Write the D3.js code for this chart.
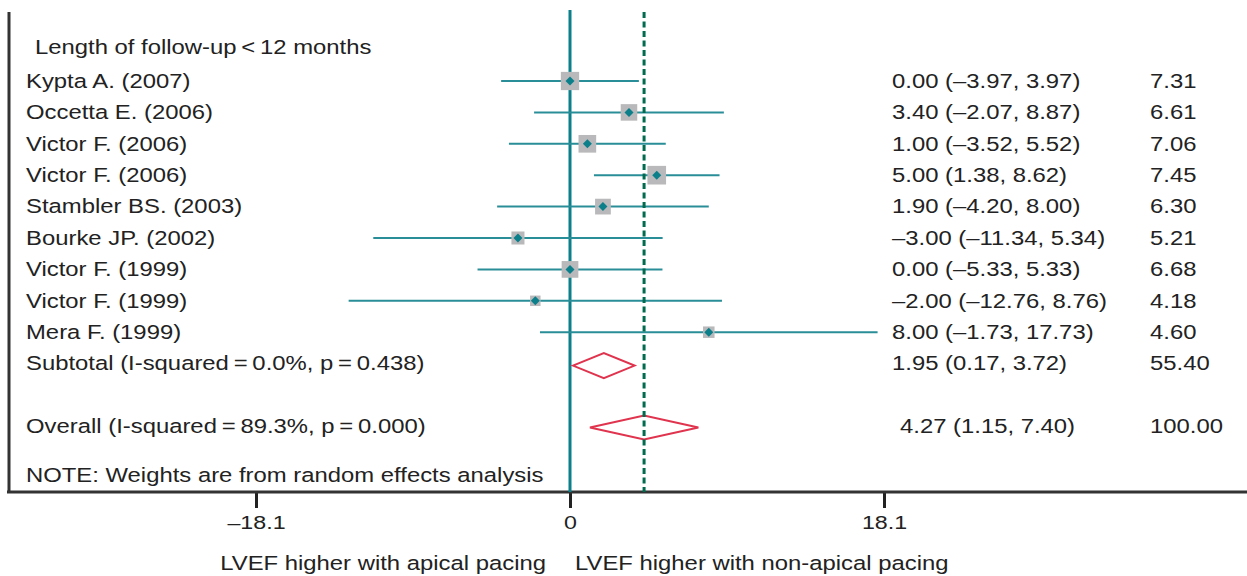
<!DOCTYPE html>
<html>
<head>
<meta charset="utf-8">
<script src="https://cdn.jsdelivr.net/npm/d3@7"></script>
<style>
  body { margin: 0; background: #fff; }
  svg text { font-family: "Liberation Sans", Arial, sans-serif; fill: #222; }
</style>
</head>
<body>
<div id="chart"></div>
<script>
// forest plot - LVEF, follow-up < 12 months

let width = 1247;
let height = 576;

let studies = ["Kypta A. (2007)", "Occetta E. (2006)", "Victor F. (2006)", "Victor F. (2006)",
    "Stambler BS. (2003)", "Bourke JP. (2002)", "Victor F. (1999)", "Victor F. (1999)", "Mera F. (1999)"];
let estimates = [0.00, 3.40, 1.00, 5.00, 1.90, -3.00, 0.00, -2.00, 8.00];
let lower = [-3.97, -2.07, -3.52, 1.38, -4.20, -11.34, -5.33, -12.76, -1.73];
let upper = [3.97, 8.87, 5.52, 8.62, 8.00, 5.34, 5.33, 8.76, 17.73];
let weights = [7.31, 6.61, 7.06, 7.45, 6.30, 5.21, 6.68, 4.18, 4.60];

// pooled results: [estimate, lower, upper, weight]
let subtotal = [1.95, 0.17, 3.72, 55.40];
let overall = [4.27, 1.15, 7.40, 100.00];

let tickValues = [-18.1, 0, 18.1];

let fmt = function (v) { return v.toFixed(2).replace("-", "\u2013"); };

// the original typeface is wider than Liberation Sans, so stretch it a bit
let fs = 19.5;
let stretch = 1.224;

let svg = d3.select("#chart")
    .append("svg")
    .attr("width", width)
    .attr("height", height);

let x = d3.scaleLinear()
    .domain([-18.1, 18.1])
    .range([256, 884]);

// row index -> vertical position
let row = d3.scaleLinear()
    .domain([0, 1])
    .range([81, 112.4]);

let plotTop = 12;
let plotBottom = 492;

function addText(tx, ty, str, anchor) {
    svg.append("text")
        .attr("transform", "translate(" + tx + "," + ty + ") scale(" + stretch + ",1)")
        .attr("dy", "0.35em")
        .attr("font-size", fs)
        .attr("text-anchor", anchor || "start")
        .text(str);
}

// frame: left and bottom
svg.append("line")
    .attr("x1", 9).attr("x2", 9)
    .attr("y1", plotTop).attr("y2", plotBottom)
    .attr("stroke", "#333").attr("stroke-width", 3);

// x axis
let axis = svg.append("g")
    .attr("transform", "translate(0," + plotBottom + ")")
    .call(d3.axisBottom(x)
        .tickValues(tickValues)
        .tickSize(16)
        .tickPadding(8)
        .tickFormat(function (d) { return d === 0 ? "0" : String(d).replace("-", "\u2013"); }));
axis.select(".domain").remove();
axis.selectAll(".tick line").attr("stroke", "#222").attr("stroke-width", 3);
axis.selectAll(".tick text")
    .attr("font-size", 19)
    .attr("fill", "#222")
    .attr("transform", "scale(" + stretch + ",1)")
    .style("font-family", "Liberation Sans, Arial, sans-serif");

svg.append("line")
    .attr("x1", 7).attr("x2", width)
    .attr("y1", plotBottom).attr("y2", plotBottom)
    .attr("stroke", "#333").attr("stroke-width", 3);

// null line
svg.append("line")
    .attr("x1", x(0)).attr("x2", x(0))
    .attr("y1", plotTop - 2).attr("y2", plotBottom)
    .attr("stroke", "#0b7f8a").attr("stroke-width", 3);

// CI lines
svg.selectAll(".ci")
    .data(studies)
    .enter()
    .append("line")
    .attr("class", "ci")
    .attr("x1", function (d, i) { return x(lower[i]); })
    .attr("x2", function (d, i) { return x(upper[i]); })
    .attr("y1", function (d, i) { return row(i); })
    .attr("y2", function (d, i) { return row(i); })
    .attr("stroke", "#2a8e98")
    .attr("stroke-width", 2);

// weight boxes
svg.selectAll(".box")
    .data(studies)
    .enter()
    .append("rect")
    .attr("class", "box")
    .attr("x", function (d, i) { return x(estimates[i]) - weights[i] * 1.25; })
    .attr("y", function (d, i) { return row(i) - weights[i] * 1.25; })
    .attr("width", function (d, i) { return weights[i] * 2.5; })
    .attr("height", function (d, i) { return weights[i] * 2.5; })
    .attr("fill", "#b9b9bb");

// point markers
svg.selectAll(".pt")
    .data(studies)
    .enter()
    .append("path")
    .attr("class", "pt")
    .attr("d", function (d, i) {
        let cx = x(estimates[i]), cy = row(i), r = 4.5;
        return "M" + (cx - r) + "," + cy + "L" + cx + "," + (cy - r) + "L" + (cx + r) + "," + cy + "L" + cx + "," + (cy + r) + "Z";
    })
    .attr("fill", "#0b7f8a");

// pooled diamonds
function diamond(vals, cy, h) {
    svg.append("path")
        .attr("d", "M" + x(vals[1]) + "," + cy + "L" + x(vals[0]) + "," + (cy - h) +
            "L" + x(vals[2]) + "," + cy + "L" + x(vals[0]) + "," + (cy + h) + "Z")
        .attr("fill", "none")
        .attr("stroke", "#e0344e")
        .attr("stroke-width", 2);
}
diamond(subtotal, row(9) + 2, 12.5);
diamond(overall, row(11) + 1, 12);

// overall effect line
svg.append("line")
    .attr("x1", x(overall[0])).attr("x2", x(overall[0]))
    .attr("y1", plotTop).attr("y2", plotBottom)
    .attr("stroke", "#006b4f")
    .attr("stroke-width", 3)
    .attr("stroke-dasharray", "6,3.5");

// left labels
addText(35, row(-1) - 2, "Length of follow-up\u2009<\u200912 months");
studies.forEach(function (d, i) { addText(26, row(i), d); });
addText(26, row(9), "Subtotal (I-squared\u2009=\u20090.0%, p\u2009=\u20090.438)");
addText(26, row(11), "Overall (I-squared\u2009=\u200989.3%, p\u2009=\u20090.000)");
addText(26, row(12.5) + 2, "NOTE: Weights are from random effects analysis");

// effect and weight columns
studies.forEach(function (d, i) {
    addText(892, row(i), fmt(estimates[i]) + " (" + fmt(lower[i]) + ", " + fmt(upper[i]) + ")");
    addText(1150, row(i), weights[i].toFixed(2));
});
addText(892, row(9), fmt(subtotal[0]) + " (" + fmt(subtotal[1]) + ", " + fmt(subtotal[2]) + ")");
addText(1150, row(9), subtotal[3].toFixed(2));
addText(900, row(11), fmt(overall[0]) + " (" + fmt(overall[1]) + ", " + fmt(overall[2]) + ")");
addText(1150, row(11), overall[3].toFixed(2));

// direction labels
addText(546, 563, "LVEF higher with apical pacing", "end");
addText(575, 563, "LVEF higher with non-apical pacing");
</script>
</body>
</html>
